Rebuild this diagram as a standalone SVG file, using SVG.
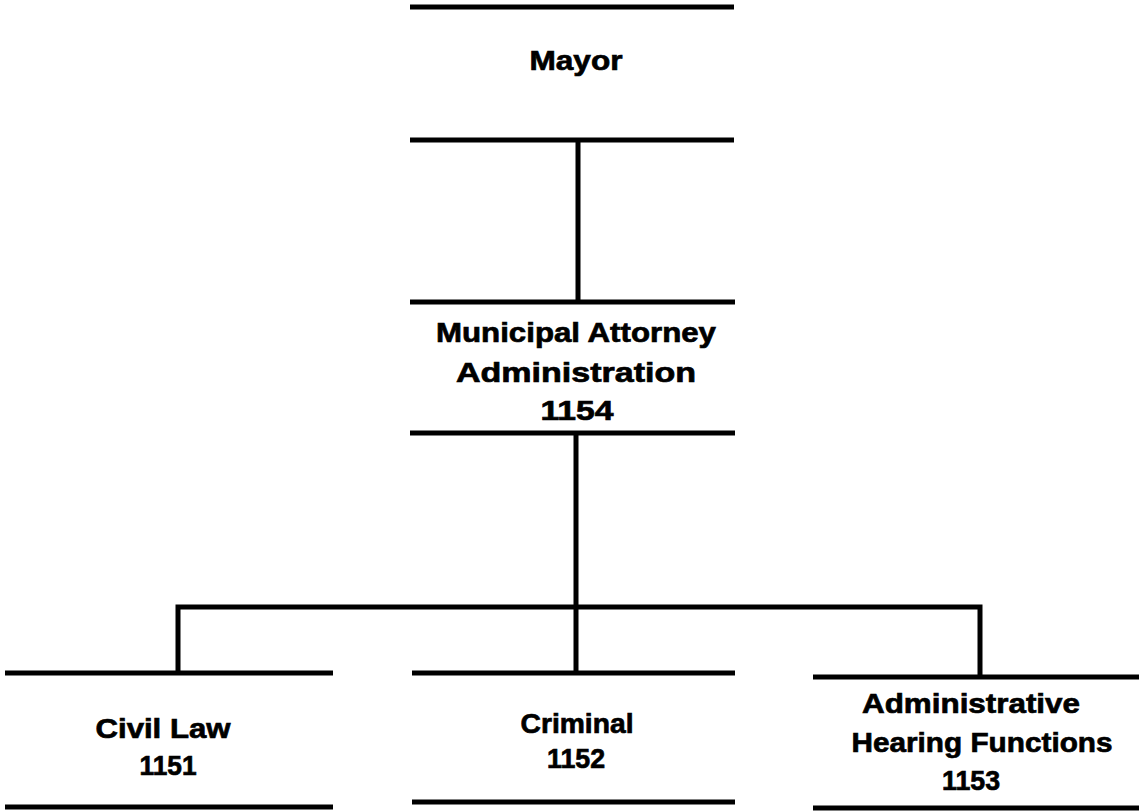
<svg xmlns="http://www.w3.org/2000/svg" width="1139" height="812" viewBox="0 0 1139 812">
<style>
.bar{stroke:#000;stroke-width:5;fill:none}
.conn{stroke:#000;stroke-width:5;fill:none}
text{font-family:"Liberation Sans",Arial,sans-serif;font-weight:bold;font-size:28px;fill:#000;stroke:#000;stroke-width:0.7;text-anchor:middle}
</style>
<rect width="1139" height="812" fill="#fff"/>
<g id="connectors">
<line class="conn" x1="578" y1="140" x2="578" y2="302"/>
<line class="conn" x1="576" y1="433" x2="576" y2="673"/>
<polyline class="conn" points="178,673 178,607 980,607 980,677"/>
</g>
<g id="mayor">
<line class="bar" x1="410" y1="7" x2="734" y2="7"/>
<line class="bar" x1="410" y1="140" x2="734" y2="140"/>
<text x="576" y="70" textLength="93" lengthAdjust="spacingAndGlyphs">Mayor</text>
</g>
<g id="municipal-attorney">
<line class="bar" x1="410" y1="302" x2="735" y2="302"/>
<line class="bar" x1="410" y1="433" x2="735" y2="433"/>
<text x="576" y="342" textLength="280" lengthAdjust="spacingAndGlyphs">Municipal Attorney</text>
<text x="576" y="382" textLength="240" lengthAdjust="spacingAndGlyphs">Administration</text>
<text x="577" y="420" textLength="73" lengthAdjust="spacingAndGlyphs">1154</text>
</g>
<g id="civil-law">
<line class="bar" x1="5" y1="673" x2="333" y2="673"/>
<line class="bar" x1="5" y1="807" x2="333" y2="807"/>
<text x="163" y="738" textLength="135" lengthAdjust="spacingAndGlyphs">Civil Law</text>
<text x="168" y="775" textLength="57" lengthAdjust="spacingAndGlyphs">1151</text>
</g>
<g id="criminal">
<line class="bar" x1="412" y1="673" x2="735" y2="673"/>
<line class="bar" x1="412" y1="802" x2="735" y2="802"/>
<text x="577" y="733" textLength="113" lengthAdjust="spacingAndGlyphs">Criminal</text>
<text x="576" y="768" textLength="58" lengthAdjust="spacingAndGlyphs">1152</text>
</g>
<g id="admin-hearing">
<line class="bar" x1="813" y1="677" x2="1139" y2="677"/>
<line class="bar" x1="813" y1="808" x2="1139" y2="808"/>
<text x="971" y="713" textLength="218" lengthAdjust="spacingAndGlyphs">Administrative</text>
<text x="982" y="752" textLength="261" lengthAdjust="spacingAndGlyphs">Hearing Functions</text>
<text x="971" y="790" textLength="58" lengthAdjust="spacingAndGlyphs">1153</text>
</g>
</svg>
